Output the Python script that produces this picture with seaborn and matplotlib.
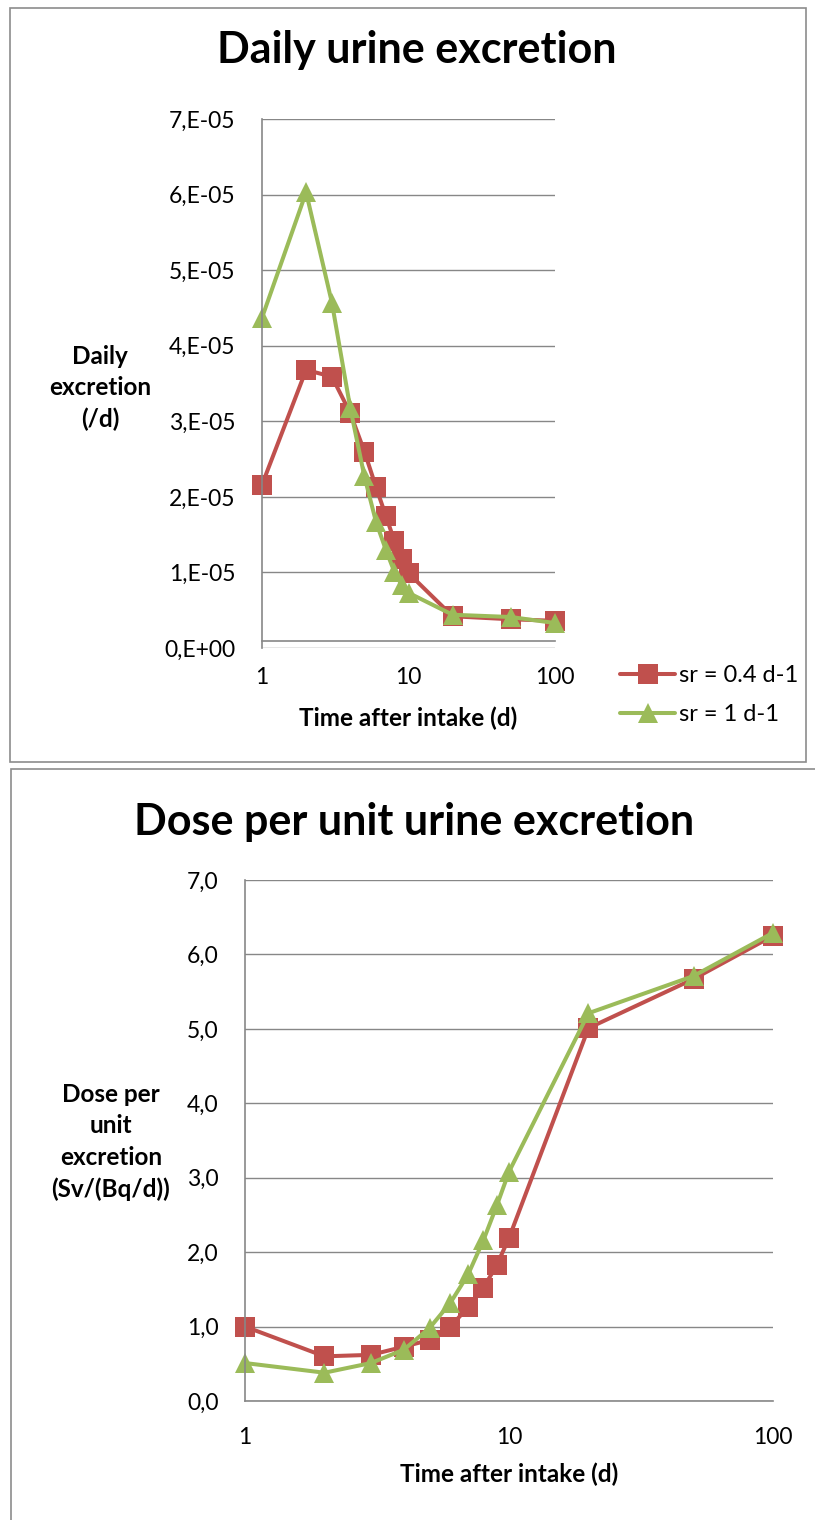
import pandas as pd
import matplotlib
matplotlib.use("Agg")
import matplotlib.pyplot as plt
import seaborn as sns
from matplotlib.ticker import FuncFormatter, NullLocator, FixedLocator
from matplotlib.patches import Rectangle

# values
days = [1, 2, 3, 4, 5, 6, 7, 8, 9, 10, 20, 50, 100]
excretion_sr04 = [2.16e-05, 3.68e-05, 3.59e-05, 3.11e-05, 2.60e-05, 2.13e-05, 1.75e-05,
                  1.42e-05, 1.18e-05, 0.99e-05, 0.42e-05, 0.38e-05, 0.36e-05]
excretion_sr1 = [4.37e-05, 6.03e-05, 4.57e-05, 3.18e-05, 2.27e-05, 1.67e-05, 1.30e-05,
                 1.01e-05, 0.83e-05, 0.73e-05, 0.44e-05, 0.41e-05, 0.33e-05]
dose_sr04 = [1.00, 0.60, 0.62, 0.73, 0.82, 1.00, 1.26, 1.52, 1.83, 2.19, 5.01, 5.67, 6.25]
dose_sr1 = [0.51, 0.38, 0.51, 0.69, 0.98, 1.32, 1.70, 2.16, 2.63, 3.08, 5.21, 5.71, 6.29]

series_names = ['sr = 0.4 d-1', 'sr = 1 d-1']
colors = ['#C0504D', '#9BBB59']
x_ticks = [1, 10, 100]
excretion_yticks = [0, 1e-05, 2e-05, 3e-05, 4e-05, 5e-05, 6e-05, 7e-05]
dose_yticks = [0, 1, 2, 3, 4, 5, 6, 7]

GRAY = '#878787'

# long-format tables for seaborn
excr_df = pd.DataFrame({
    'day': days * 2,
    'value': excretion_sr04 + excretion_sr1,
    'series': [series_names[0]] * len(days) + [series_names[1]] * len(days),
})
dose_df = pd.DataFrame({
    'day': days * 2,
    'value': dose_sr04 + dose_sr1,
    'series': [series_names[0]] * len(days) + [series_names[1]] * len(days),
})

sns.set_style('white')
plt.rcParams['font.family'] = ['Lato', 'DejaVu Sans']
plt.rcParams['text.color'] = 'black'
plt.rcParams['axes.labelcolor'] = 'black'

W, H = 815, 1520
fig = plt.figure(figsize=(W / 100, H / 100), dpi=100)

# chart frames (Excel chart area borders)
fig.patches.append(Rectangle((10 / W, 1 - 762 / H), 796 / W, 754 / H, transform=fig.transFigure,
                             fill=False, edgecolor='#8C8C8C', linewidth=1.2))
fig.patches.append(Rectangle((11 / W, 1 - 1560 / H), 830 / W, 791 / H, transform=fig.transFigure,
                             fill=False, edgecolor='#8C8C8C', linewidth=1.2))

ax1 = fig.add_axes([262 / W, 1 - 648 / H, 293 / W, 529 / H])
ax2 = fig.add_axes([245 / W, 1 - 1401 / H, 528 / W, 521 / H])


def draw(ax, df):
    sns.lineplot(data=df, x='day', y='value', hue='series', style='series',
                 hue_order=series_names, style_order=series_names,
                 palette=colors, markers=['s', '^'], dashes=False,
                 linewidth=2.9, markersize=14, markeredgewidth=0,
                 clip_on=False, legend=False, ax=ax)


def style_axes(ax, yticks, ylim, fmt):
    ax.set_xscale('log')
    ax.set_xlim(1, 100)
    ax.set_ylim(*ylim)
    ax.xaxis.set_major_locator(FixedLocator(x_ticks))
    ax.xaxis.set_minor_locator(NullLocator())
    ax.xaxis.set_major_formatter(FuncFormatter(lambda v, p: f'{v:g}'))
    ax.set_yticks(yticks)
    ax.yaxis.set_major_formatter(FuncFormatter(fmt))
    ax.grid(axis='y', color=GRAY, linewidth=1.0)
    ax.grid(axis='x', visible=False)
    for s in ['top', 'right']:
        ax.spines[s].set_visible(False)
    for s in ['left', 'bottom']:
        ax.spines[s].set_color(GRAY)
        ax.spines[s].set_linewidth(1.2)
    ax.tick_params(axis='y', direction='inout', length=12, width=1, color=GRAY,
                   pad=13, labelsize=16.5, labelcolor='black')
    ax.tick_params(axis='x', direction='out', length=5, width=1, color=GRAY,
                   pad=13.5, labelsize=16.5, labelcolor='black')
    ax.set_xlabel('Time after intake (d)', fontsize=17.5, fontweight='bold')
    ax.xaxis.label.set_va('center')


def sci_fmt(v, pos):
    n = int(round(v / 1e-05))
    return '0,E+00' if n == 0 else f'{n},E-05'


def comma_fmt(v, pos):
    return f'{v:.1f}'.replace('.', ',')


draw(ax1, excr_df)
draw(ax2, dose_df)
style_axes(ax1, excretion_yticks, (0, 7e-05), sci_fmt)
style_axes(ax2, dose_yticks, (0, 7), comma_fmt)

# Excel draws the horizontal axis a hair above zero on the top chart
ax1.spines['bottom'].set_position(('data', 0.93e-06))

ax1.xaxis.set_label_coords(0.5, (648 - 718) / 529)
ax2.xaxis.set_label_coords(0.5, (1401 - 1474) / 521)

ax1.set_ylabel('Daily\nexcretion\n(/d)', rotation=0, fontsize=17.5, fontweight='bold',
               ha='center', va='center', multialignment='center', linespacing=1.45)
ax1.yaxis.set_label_coords((100 - 262) / 293, (648 - 388) / 529)
ax2.set_ylabel('Dose per\nunit\nexcretion\n(Sv/(Bq/d))', rotation=0, fontsize=17.5,
               fontweight='bold', ha='center', va='center', multialignment='center',
               linespacing=1.45)
ax2.yaxis.set_label_coords((111 - 245) / 528, (1401 - 1142) / 521)

fig.text(417 / W, 1 - 63 / H, 'Daily urine excretion', fontsize=31, fontweight='bold',
         ha='center', va='baseline')
fig.text(414 / W, 1 - 835 / H, 'Dose per unit urine excretion', fontsize=31,
         fontweight='bold', ha='center', va='baseline')

fig.legend(ax1.lines[:2], series_names, loc='upper left',
           bbox_to_anchor=(620 / W, 1 - 665 / H), frameon=False, fontsize=17,
           handlelength=2.35, handletextpad=0.15, labelspacing=0.78,
           borderpad=0, borderaxespad=0)

fig.savefig('out.png', dpi=100)
